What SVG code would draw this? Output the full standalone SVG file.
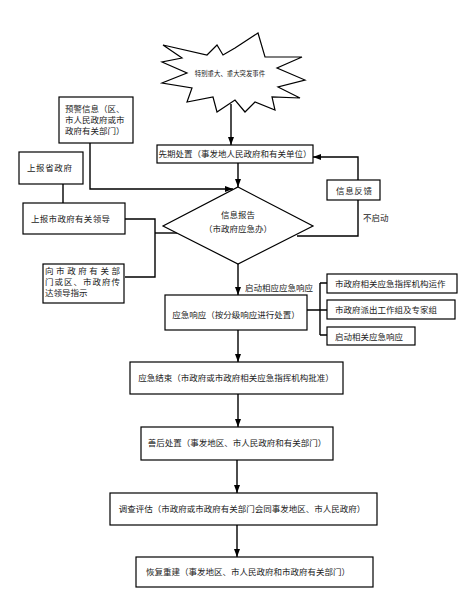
<svg xmlns="http://www.w3.org/2000/svg" width="473" height="609" viewBox="0 0 473 609">
<defs>
<style>
.b{fill:#fff;stroke:#000;stroke-width:1.2}
.t{font-family:"Noto Sans CJK SC","Liberation Serif",serif;font-size:8.5px;fill:#222}
.m{text-anchor:middle}
.c{fill:none;stroke:#000;stroke-width:1.4}
</style>
<marker id="ah" viewBox="0 0 8 6" refX="8" refY="3" markerWidth="8" markerHeight="6" markerUnits="userSpaceOnUse" orient="auto">
<path d="M0,0 L8,3 L0,6 z" fill="#000"/>
</marker>
</defs>
<rect width="473" height="609" fill="#fff"/>
<g id="connectors">
<path class="c" d="M231,104 V145" marker-end="url(#ah)"/>
<path class="c" d="M238,163 V187" marker-end="url(#ah)"/>
<path class="c" d="M90,143 V189 H233" marker-end="url(#ah)"/>
<path class="c" d="M63,184 V203"/>
<path class="c" d="M125,219 H155 V277 H125"/>
<path class="c" d="M155,233 H177"/>
<path class="c" d="M297,236 H358 V200"/>
<path class="c" d="M358,180 V157 H313" marker-end="url(#ah)"/>
<path class="c" d="M238,264 V295" marker-end="url(#ah)"/>
<path class="c" d="M307,310 H320 M320,283 V335 M320,283 H327 M320,310 H327 M320,335 H327"/>
<path class="c" d="M238,330 V362" marker-end="url(#ah)"/>
<path class="c" d="M238,394 V427" marker-end="url(#ah)"/>
<path class="c" d="M237,460 V493" marker-end="url(#ah)"/>
<path class="c" d="M237,525 V557" marker-end="url(#ah)"/>
</g>
<g id="star">
<polygon class="b" points="163,45 207,55 217,45 223,55 235,48 258,33 265,57 302,57 277,68 305,80 278,87 300,98 272,97 275,110 255,102 245,112 235,100 217,112 213,97 187,102 192,88 162,83 187,73 162,62 182,58"/>
<text class="t m" x="230" y="75.5" style="font-size:6.4px">特别重大、重大突发事件</text>
</g>
<g id="n-yujing">
<rect class="b" x="59" y="97" width="74" height="46"/>
<text class="t" x="65" y="112">预警信息（区、</text>
<text class="t" x="65" y="123">市人民政府或市</text>
<text class="t" x="65" y="134">政府有关部门）</text>
</g>
<g id="n-shengzf">
<rect class="b" x="19" y="152" width="64" height="32"/>
<text class="t" x="27" y="171" textLength="45">上报省政府</text>
</g>
<g id="n-xianqi">
<rect class="b" x="157" y="145" width="156" height="18"/>
<text class="t m" x="235" y="157">先期处置（事发地人民政府和有关单位）</text>
</g>
<g id="n-shizf">
<rect class="b" x="23" y="203" width="102" height="31"/>
<text class="t" x="31" y="222" textLength="79">上报市政府有关领导</text>
</g>
<g id="n-xinxi">
<polygon class="b" points="238,187 313,226 238,264 163,226"/>
<text class="t m" x="238" y="218">信息报告</text>
<text class="t m" x="238" y="232">（市政府应急办）</text>
</g>
<g id="n-fankui">
<rect class="b" x="327" y="180" width="53" height="20"/>
<text class="t m" x="354" y="193.5" textLength="36">信息反馈</text>
</g>
<text class="t" x="363" y="221">不启动</text>
<g id="n-chuanda">
<rect class="b" x="43" y="264" width="81" height="39"/>
<text class="t" x="45" y="274" textLength="75">向市政府有关部</text>
<text class="t" x="45" y="285" textLength="75">门或区、市政府传</text>
<text class="t" x="45" y="296">达领导指示</text>
</g>
<text class="t" x="245" y="291">启动相应应急响应</text>
<g id="n-xiangying">
<rect class="b" x="165" y="295" width="142" height="35"/>
<text class="t m" x="236" y="318">应急响应（按分级响应进行处置）</text>
</g>
<g id="n-r1">
<rect class="b" x="327" y="274" width="130" height="19"/>
<text class="t" x="335" y="287">市政府相关应急指挥机构运作</text>
</g>
<g id="n-r2">
<rect class="b" x="327" y="300" width="128" height="19"/>
<text class="t" x="335" y="313">市政府派出工作组及专家组</text>
</g>
<g id="n-r3">
<rect class="b" x="327" y="327" width="88" height="18"/>
<text class="t" x="335" y="339.5">启动相关应急响应</text>
</g>
<g id="n-jieshu">
<rect class="b" x="130" y="362" width="213" height="32"/>
<text class="t m" x="236" y="381">应急结束（市政府或市政府相关应急指挥机构批准）</text>
</g>
<g id="n-shanhou">
<rect class="b" x="141" y="427" width="192" height="33"/>
<text class="t m" x="237" y="446">善后处置（事发地区、市人民政府和有关部门）</text>
</g>
<g id="n-diaocha">
<rect class="b" x="110" y="493" width="267" height="32"/>
<text class="t m" x="242" y="512">调查评估（市政府或市政府有关部门会同事发地区、市人民政府）</text>
</g>
<g id="n-huifu">
<rect class="b" x="136" y="557" width="237" height="30"/>
<text class="t m" x="248" y="575">恢复重建（事发地区、市人民政府和市政府有关部门）</text>
</g>
</svg>
